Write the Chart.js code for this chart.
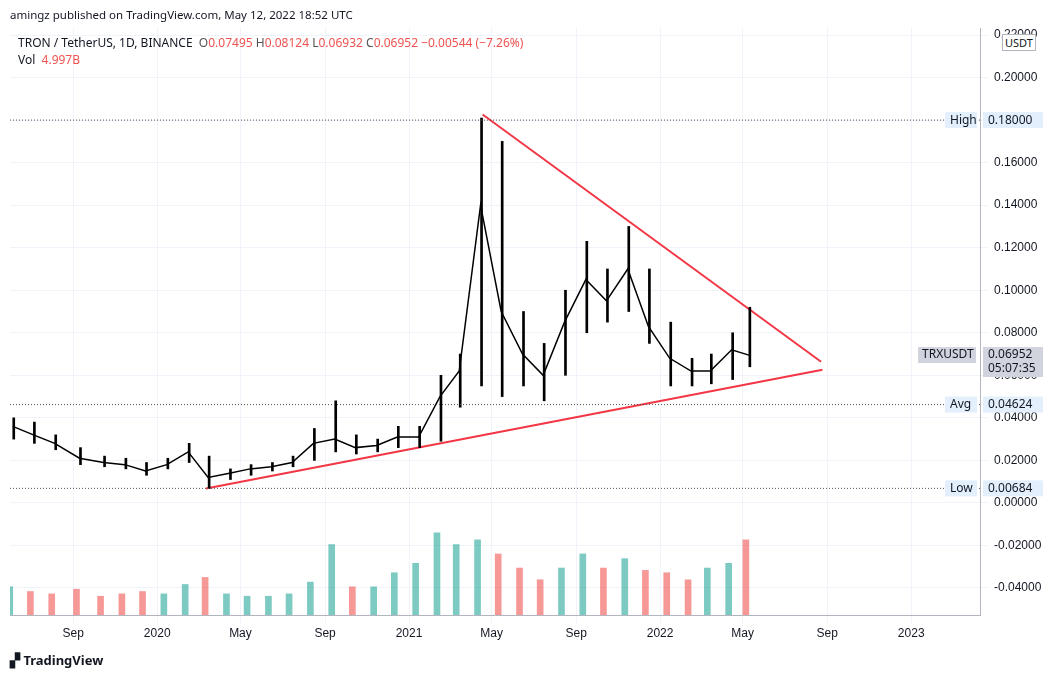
<!DOCTYPE html>
<html><head><meta charset="utf-8">
<script src="https://cdn.jsdelivr.net/npm/chart.js@4"></script>
<style>
body{margin:0;background:#fff;font-family:"Noto Sans",Arial,sans-serif;}
#wrap{position:relative;width:1060px;height:677px;}
.t{position:absolute;font-size:12px;color:#131722;white-space:nowrap;}
</style></head><body>
<div id="wrap">
<canvas id="c" width="1060" height="677"></canvas>
<div class="t" style="left:10px;top:7px;font-size:11.5px">amingz published on TradingView.com, May 12, 2022 18:52 UTC</div>
<div class="t" style="left:18px;top:34px">TRON / TetherUS, 1D, BINANCE &nbsp;<span style="color:#555">O</span><span style="color:#ef5350">0.07495</span> <span style="color:#555">H</span><span style="color:#ef5350">0.08124</span> <span style="color:#555">L</span><span style="color:#ef5350">0.06932</span> <span style="color:#555">C</span><span style="color:#ef5350">0.06952 −0.00544 (−7.26%)</span></div>
<div class="t" style="left:18px;top:51px">Vol &nbsp;<span style="color:#ef5350">4.997B</span></div>
<div class="t" style="left:1002px;top:34px;border:1px solid #b2b5be;background:#fff;padding:0 2px;font-size:11px">USDT</div>
<div class="t" style="left:10px;top:651px;font-size:13px;font-weight:bold">▞ TradingView</div>
</div>
<script>
// monthly data (mid-month)
const dates = ["2019-06-05","2019-07-05","2019-08-05","2019-09-10","2019-10-15","2019-11-15","2019-12-15",
"2020-01-15","2020-02-15","2020-03-15","2020-04-15","2020-05-15","2020-06-15","2020-07-15","2020-08-15","2020-09-15","2020-10-15","2020-11-15","2020-12-15",
"2021-01-15","2021-02-15","2021-03-15","2021-04-15","2021-05-15","2021-06-15","2021-07-15","2021-08-15","2021-09-15","2021-10-15","2021-11-15","2021-12-15",
"2022-01-15","2022-02-15","2022-03-15","2022-04-15","2022-05-10"];
const closes = [0.036,0.032,0.028,0.021,0.019,0.018,0.015,0.018,0.024,0.012,0.014,0.016,0.017,0.019,0.028,0.030,0.026,0.027,0.031,
0.031,0.050,0.062,0.140,0.090,0.070,0.060,0.085,0.105,0.095,0.110,0.083,0.068,0.062,0.062,0.072,0.0695];
const highs = [0.040,0.038,0.032,0.026,0.022,0.021,0.019,0.021,0.028,0.022,0.016,0.018,0.019,0.022,0.035,0.048,0.032,0.030,0.036,
0.036,0.060,0.070,0.181,0.170,0.090,0.075,0.100,0.123,0.110,0.130,0.110,0.085,0.068,0.070,0.080,0.092];
const lows = [0.030,0.028,0.025,0.018,0.017,0.016,0.013,0.016,0.019,0.0068,0.011,0.013,0.015,0.017,0.020,0.024,0.023,0.024,0.026,
0.026,0.029,0.045,0.055,0.050,0.055,0.048,0.060,0.080,0.085,0.090,0.075,0.055,0.055,0.056,0.058,0.064];
const volumes = [1.2,1.0,0.9,1.1,0.8,0.9,1.0,0.9,1.3,1.6,0.9,0.8,0.8,0.9,1.4,3.0,1.2,1.2,1.8,2.2,3.5,3.0,3.2,2.6,2.0,1.5,2.0,2.6,2.0,2.4,1.9,1.8,1.5,2.0,2.2,3.2];
const upperLine = [["2021-04-18",0.1826],["2022-08-23",0.0664]];
const lowerLine = [["2020-03-12",0.0068],["2022-08-25",0.0626]];
const priceTicks = [-0.04,-0.02,0,0.02,0.04,0.06,0.08,0.10,0.12,0.14,0.16,0.18,0.20,0.22];
const markers = [{label:"High",v:0.18},{label:"Avg",v:0.04624},{label:"Low",v:0.00684}];
const monthTicks = [["2019-09-01","Sep"],["2020-01-01","2020"],["2020-05-01","May"],["2020-09-01","Sep"],["2021-01-01","2021"],["2021-05-01","May"],["2021-09-01","Sep"],["2022-01-01","2022"],["2022-05-01","May"],["2022-09-01","Sep"],["2023-01-01","2023"]];

const day0 = Date.UTC(2019,6,1);
const d = s => (Date.parse(s+"T00:00:00Z")-day0)/86400000;

const markerPlugin = {
  id:"markers",
  afterDraw(ch){
    const c=ch.ctx, y=ch.scales.y, a=ch.chartArea;
    c.save(); c.font="12px 'Noto Sans'"; c.textBaseline="middle";
    markers.forEach(m=>{
      const py=y.getPixelForValue(m.v);
      c.setLineDash([1,2]); c.strokeStyle="#555"; c.beginPath(); c.moveTo(a.left,py); c.lineTo(a.right,py); c.stroke(); c.setLineDash([]);
      c.fillStyle="#e3effd"; c.fillRect(945,py-8,32,16); c.fillRect(983,py-8,60,16);
      c.fillStyle="#131722"; c.fillText(m.label,950,py); c.fillText(m.v.toFixed(5),988,py);
    });
    const py=y.getPixelForValue(0.06952);
    c.fillStyle="#d1d4dc"; c.fillRect(918,py-8,58,16); c.fillRect(983,py-8,60,30);
    c.fillStyle="#131722"; c.fillText("TRXUSDT",922,py); c.fillText("0.06952",988,py); c.fillText("05:07:35",988,py+14);
    c.restore();
  }
};

new Chart(document.getElementById("c"),{
  data:{datasets:[
    {type:"bar",yAxisID:"v",data:dates.map((s,i)=>({x:d(s),y:volumes[i]})),
     backgroundColor:closes.map((v,i)=>i&&v<closes[i-1]?"rgba(239,83,80,0.6)":"rgba(38,166,154,0.6)"),barThickness:6},
    {type:"bar",data:dates.map((s,i)=>({x:d(s),y:[lows[i],highs[i]]})),backgroundColor:"#000",barThickness:2},
    {type:"line",data:dates.map((s,i)=>({x:d(s),y:closes[i]})),borderColor:"#000",borderWidth:1.5,pointRadius:0,tension:0},
    {type:"line",data:upperLine.map(p=>({x:d(p[0]),y:p[1]})),borderColor:"#f23645",borderWidth:2,pointRadius:0},
    {type:"line",data:lowerLine.map(p=>({x:d(p[0]),y:p[1]})),borderColor:"#f23645",borderWidth:2,pointRadius:0}
  ]},
  options:{responsive:false,animation:false,
    layout:{padding:{left:10,top:28,bottom:32,right:0}},
    plugins:{legend:{display:false},tooltip:{enabled:false}},
    scales:{
      x:{type:"linear",offset:false,min:d("2019-06-01"),max:d("2023-04-11"),
        afterBuildTicks:s=>{s.ticks=monthTicks.map(t=>({value:d(t[0])}));},
        ticks:{autoSkip:false,maxRotation:0,color:"#131722",font:{size:12},
          callback:v=>{const t=monthTicks.find(m=>d(m[0])===v);return t?t[1]:"";}},
        grid:{color:"#f0f3fa",offset:false},border:{color:"#b2b5be"},afterFit:s=>{s.height=30;}},
      y:{position:"right",min:-0.0527,max:0.2233,
        afterBuildTicks:s=>{s.ticks=priceTicks.map(v=>({value:v}));},
        ticks:{color:"#131722",font:{size:12},padding:6,callback:v=>v.toFixed(5)},
        grid:{color:"#f0f3fa"},border:{color:"#b2b5be"},afterFit:s=>{s.width=80;}},
      v:{display:false,min:0,max:25}
    }
  },
  plugins:[markerPlugin]
});
</script>
</body></html>
